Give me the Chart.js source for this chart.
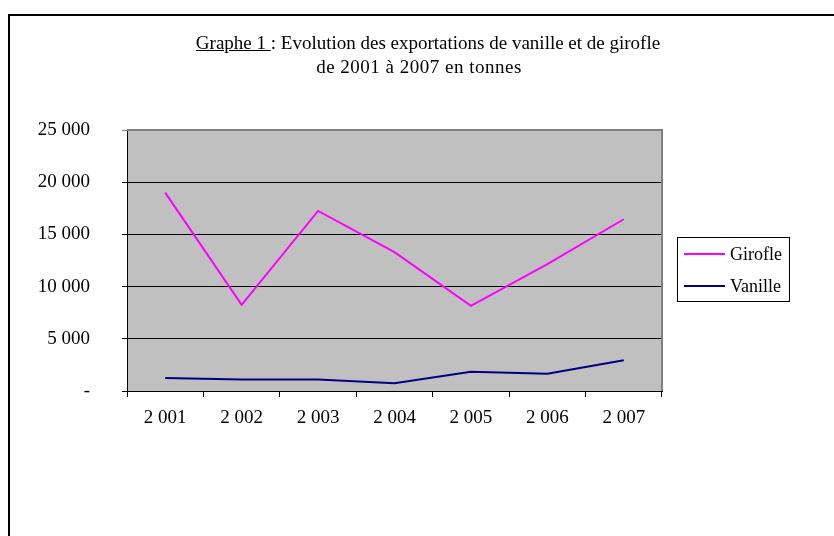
<!DOCTYPE html>
<html>
<head>
<meta charset="utf-8">
<script src="https://cdn.jsdelivr.net/npm/chart.js@4/dist/chart.umd.min.js"></script>
<style>
  body { margin: 0; background: #fff; }
  #wrap { position: relative; width: 834px; height: 536px; overflow: hidden; }
  #frame { position: absolute; left: 8px; top: 14px; width: 900px; height: 600px;
           border-left: 2px solid #000; border-top: 2px solid #000; }
  .title { position: absolute; transform: translateX(-50%); white-space: nowrap;
           font: 19px "Liberation Serif", "Times New Roman", serif; line-height: 21px; color: #000; }
  #t1 { left: 428px; top: 32px; }
  #t2 { left: 419px; top: 56px; letter-spacing: 0.5px; }
  canvas { position: absolute; left: 0; top: 0; }
</style>
</head>
<body>
<div id="wrap">
  <div id="frame"></div>
  <canvas id="chart" width="834" height="536"></canvas>
  <div class="title" id="t1"><u>Graphe 1 </u>: Evolution des exportations de vanille et de girofle</div>
  <div class="title" id="t2">de 2001 à 2007 en tonnes</div>
</div>
<script>
const years = ["2 001", "2 002", "2 003", "2 004", "2 005", "2 006", "2 007"];
const girofle = [19000, 8250, 17250, 13300, 8150, 12150, 16450];
const vanille = [1250, 1100, 1100, 750, 1850, 1650, 2950];
const seriesNames = ["Girofle", "Vanille"];
const seriesColors = ["#ff00ff", "#000080"];

const serif = "'Liberation Serif', 'Times New Roman', serif";

function formatTick(v) {
  if (v === 0) return "-";
  return String(v).replace(/\B(?=(\d{3})+(?!\d))/g, " ");
}

// fond gris + bordure de la zone de tracé
const plotArea = {
  id: "plotArea",
  beforeDraw(chart) {
    const { ctx, chartArea: a } = chart;
    ctx.save();
    ctx.fillStyle = "#c0c0c0";
    ctx.fillRect(a.left, a.top, a.right - a.left, a.bottom - a.top);
    ctx.restore();
  },
  afterDatasetsDraw(chart) {
    const { ctx, chartArea: a } = chart;
    ctx.save();
    ctx.strokeStyle = "#808080";
    ctx.lineWidth = 2;
    ctx.beginPath();
    ctx.moveTo(a.left, a.top);
    ctx.lineTo(a.right, a.top);
    ctx.lineTo(a.right, a.bottom);
    ctx.stroke();
    ctx.restore();
  }
};

// légende encadrée à droite
const boxLegend = {
  id: "boxLegend",
  afterDraw(chart) {
    const ctx = chart.ctx;
    ctx.save();
    ctx.strokeStyle = "#000";
    ctx.lineWidth = 1;
    ctx.strokeRect(677.5, 237.5, 112, 64);
    ctx.font = "18px " + serif;
    ctx.textBaseline = "middle";
    ctx.fillStyle = "#000";
    chart.data.datasets.forEach((ds, i) => {
      const y = 254 + i * 32;
      ctx.strokeStyle = ds.borderColor;
      ctx.lineWidth = 2;
      ctx.beginPath();
      ctx.moveTo(684, y);
      ctx.lineTo(725, y);
      ctx.stroke();
      ctx.fillText(ds.label, 730, y + 1);
    });
    ctx.restore();
  }
};

new Chart(document.getElementById("chart"), {
  type: "line",
  data: {
    labels: years,
    datasets: [
      { label: seriesNames[0], data: girofle, borderColor: seriesColors[0], borderWidth: 2, pointRadius: 0, tension: 0 },
      { label: seriesNames[1], data: vanille, borderColor: seriesColors[1], borderWidth: 2, pointRadius: 0, tension: 0 }
    ]
  },
  options: {
    responsive: false,
    animation: false,
    layout: { padding: { left: 0, top: 130, right: 172, bottom: 0 } },
    plugins: { legend: { display: false }, tooltip: { enabled: false } },
    scales: {
      x: {
        offset: true,
        afterFit: s => { s.height = 145; },
        grid: { drawOnChartArea: false, drawTicks: true, tickLength: 6, offset: true, color: "#000" },
        border: { color: "#000", width: 1 },
        ticks: { color: "#000", font: { family: serif, size: 19 }, padding: 10, maxRotation: 0 }
      },
      y: {
        min: 0,
        max: 25000,
        afterFit: s => { s.width = 127; },
        grid: { color: c => c.tick && c.tick.value === 25000 ? "#808080" : "#000", tickLength: 5, lineWidth: 1 },
        border: { color: "#000", width: 1 },
        ticks: { stepSize: 5000, color: "#000", font: { family: serif, size: 19 }, padding: 32, callback: formatTick }
      }
    }
  },
  plugins: [plotArea, boxLegend]
});
</script>
</body>
</html>
